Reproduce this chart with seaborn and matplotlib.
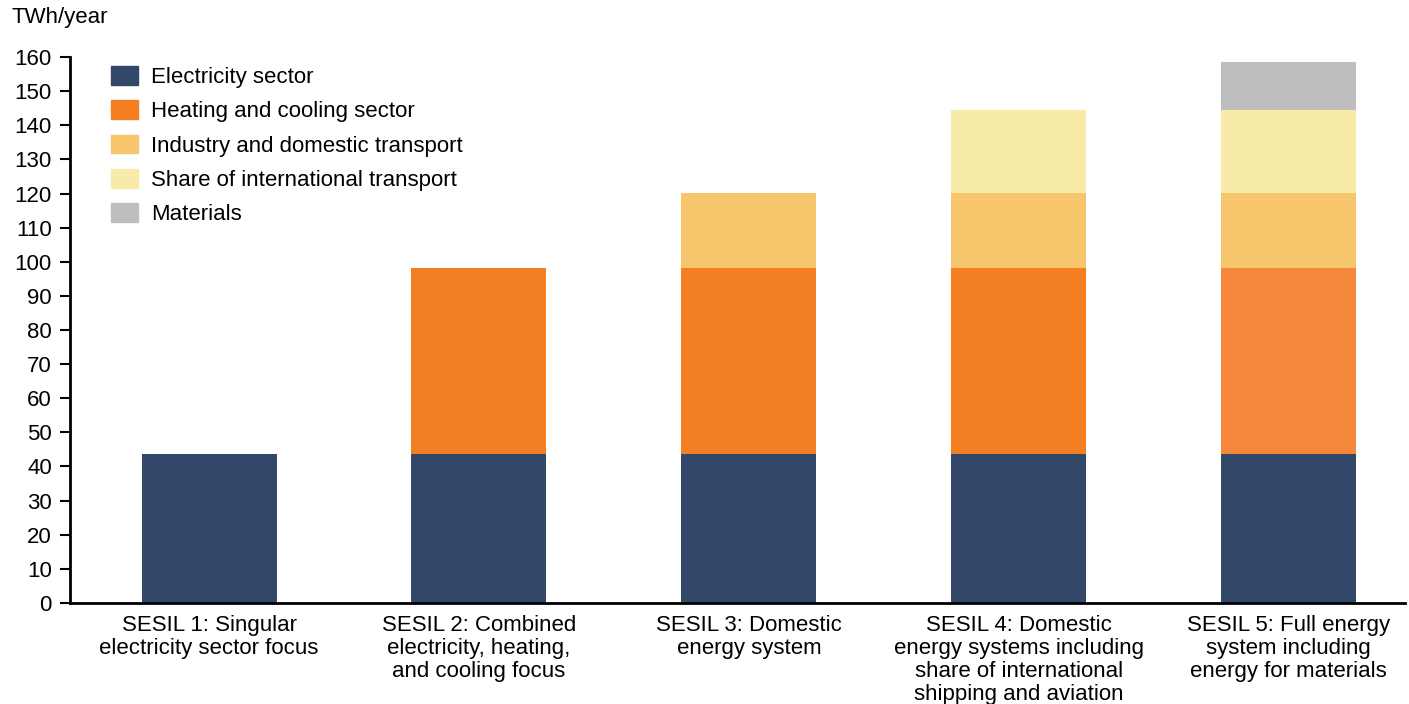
import matplotlib.pyplot as plt
import numpy as np
import pandas as pd
import seaborn as sns

scenarios = [
    "SESIL 1: Singular\nelectricity sector focus",
    "SESIL 2: Combined\nelectricity, heating,\nand cooling focus",
    "SESIL 3: Domestic\nenergy system",
    "SESIL 4: Domestic\nenergy systems including\nshare of international\nshipping and aviation",
    "SESIL 5: Full energy\nsystem including\nenergy for materials",
]
sectors = [
    "Electricity sector",
    "Heating and cooling sector",
    "Industry and domestic transport",
    "Share of international transport",
    "Materials",
]
electricity = [43.7, 43.7, 43.7, 43.7, 43.7]
heating = [0, 54.5, 54.5, 54.5, 54.5]
industry = [0, 0, 22.0, 22.0, 22.0]
international = [0, 0, 0, 24.4, 24.4]
materials = [0, 0, 0, 0, 13.8]
yticks = list(range(0, 161, 10))

colors = ["#334769", "#F47F22", "#F6C56C", "#F8EBA9", "#BEBEBE"]

sns.set_style("white")
plt.rcParams["font.family"] = ["Liberation Sans", "DejaVu Sans"]
plt.rcParams["text.color"] = "black"
plt.rcParams["xtick.color"] = "black"
plt.rcParams["ytick.color"] = "black"

values = np.array([electricity, heating, industry, international, materials])
cum = values.cumsum(axis=0)

fig = plt.figure(figsize=(14.09, 7.04), dpi=100)
ax = fig.add_axes([0.0497, 0.1435, 0.9473, 0.7755])

# draw cumulative totals from top layer down so lower layers overlap
for i in range(len(sectors) - 1, -1, -1):
    df = pd.DataFrame({"Scenario": scenarios, "Value": cum[i]})
    mask = values[i] > 0
    sns.barplot(data=df, x="Scenario", y="Value", color=colors[i],
                width=0.5, saturation=1, ax=ax, order=scenarios,
                edgecolor="none")
    for bar, m in zip(ax.containers[-1], mask):
        if not m:
            bar.set_visible(False)
    if i == 1:
        # the last heating block is a slightly lighter orange in the source
        ax.containers[-1][-1].set_facecolor("#F6883B")

ax.set_xlim(-0.515, 4.43)
ax.set_ylim(0, 160)
ax.set_yticks(yticks)
ax.set_xlabel("")
ax.set_ylabel("")
ax.tick_params(axis="y", labelsize=16, length=7, width=1.5, direction="out",
               left=True, pad=6)
ax.tick_params(axis="x", labelsize=16, length=0, pad=9)
for lbl in ax.get_xticklabels():
    lbl.set_linespacing(1.12)
sns.despine(ax=ax)
for s in ["left", "bottom"]:
    ax.spines[s].set_linewidth(2)
    ax.spines[s].set_color("black")

handles = [plt.Rectangle((0, 0), 1, 1, color=c) for c in colors]
ax.legend(handles, sectors, loc="upper left", bbox_to_anchor=(0.016, 1.02),
          frameon=False, fontsize=16, handlelength=1.2, handleheight=0.9,
          handletextpad=0.6, labelspacing=0.56)

fig.text(0.008, 0.975, "TWh/year", fontsize=16, va="center", ha="left")

fig.savefig("out.png", dpi=100)
